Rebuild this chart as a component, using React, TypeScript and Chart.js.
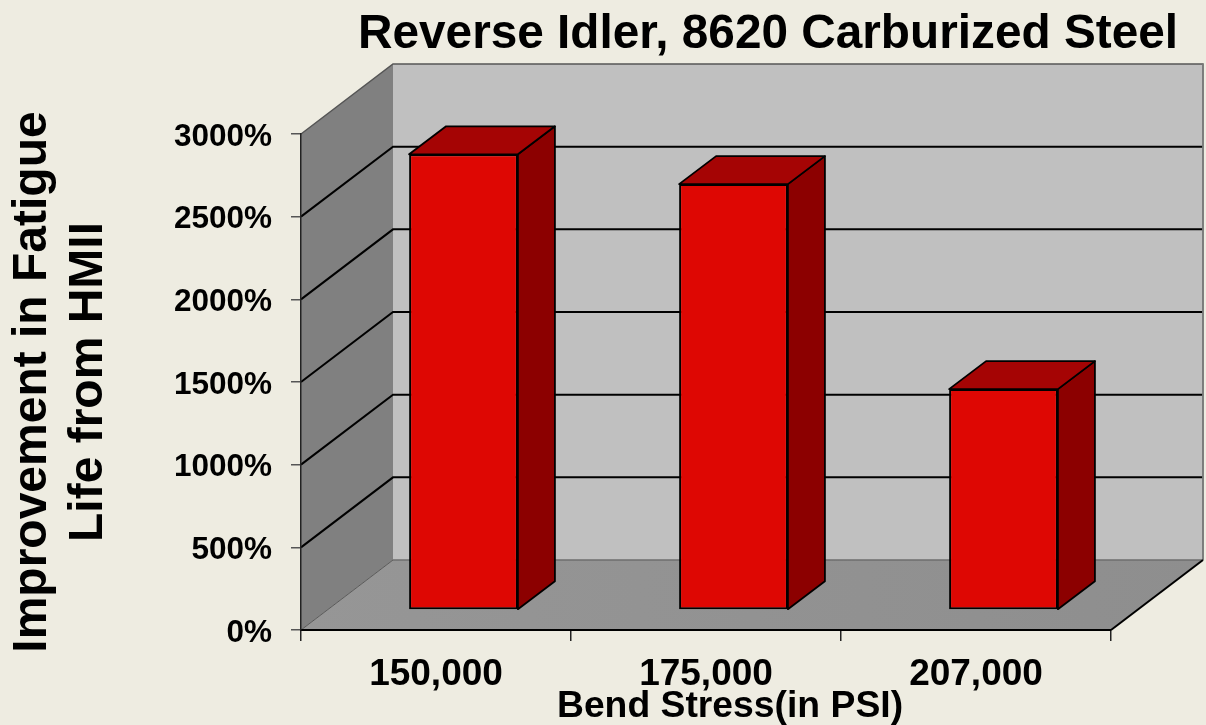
import React, { useEffect, useRef } from "react";
import { Chart, registerables } from "chart.js";

Chart.register(...registerables);

const categories = ["150,000", "175,000", "207,000"];
const improvement = [2750, 2570, 1330];
const chartTitle = "Reverse Idler, 8620 Carburized Steel";
const yTitle = ["Improvement in Fatigue", "Life from HMII"];
const xTitle = "Bend Stress(in PSI)";

const FONT = '"Liberation Sans", Arial, sans-serif';
const DEPTH_X = 92;
const DEPTH_Y = 70;
const BAR_SHIFT_X = 27.5;
const BAR_SHIFT_Y = 21;
const BAR_DEPTH_X = 37;
const BAR_DEPTH_Y = 28;

function poly(ctx: CanvasRenderingContext2D, pts: number[][], fill: string, stroke?: string, lw = 1) {
  ctx.beginPath();
  pts.forEach((p, i) => (i ? ctx.lineTo(p[0], p[1]) : ctx.moveTo(p[0], p[1])));
  ctx.closePath();
  ctx.fillStyle = fill;
  ctx.fill();
  if (stroke) {
    ctx.strokeStyle = stroke;
    ctx.lineWidth = lw;
    ctx.lineJoin = "round";
    ctx.stroke();
  }
}

function seg(ctx: CanvasRenderingContext2D, pts: number[][], stroke: string, lw: number) {
  ctx.beginPath();
  pts.forEach((p, i) => (i ? ctx.lineTo(p[0], p[1]) : ctx.moveTo(p[0], p[1])));
  ctx.strokeStyle = stroke;
  ctx.lineWidth = lw;
  ctx.stroke();
}

const scene3d = {
  id: "scene3d",
  afterLayout(chart: any) {
    const t = chart.titleBlock;
    if (t) {
      t.left = 358;
      t.right = 1178;
    }
  },
  beforeDraw(chart: any) {
    const ctx: CanvasRenderingContext2D = chart.ctx;
    const { left, right, top, bottom } = chart.chartArea;
    const y = chart.scales.y;
    ctx.save();
    ctx.fillStyle = "#EEECE1";
    ctx.fillRect(0, 0, chart.width, chart.height);
    const bl = left + DEPTH_X;
    const br = right + DEPTH_X;
    const bt = top - DEPTH_Y;
    const bb = bottom - DEPTH_Y;
    poly(ctx, [[bl, bt], [br, bt], [br, bb], [bl, bb]], "#C0C0C0");
    const floor = ctx.createLinearGradient(left, 0, br, 0);
    floor.addColorStop(0, "#969696");
    floor.addColorStop(1, "#8E8E8E");
    poly(ctx, [[left, bottom], [right, bottom], [br, bb], [bl, bb]], floor);
    poly(ctx, [[left, top], [bl, bt], [bl, bb], [left, bottom]], "#808080");
    y.ticks.forEach((tk: any) => {
      const py = y.getPixelForValue(tk.value);
      if (tk.value > 0 && tk.value < 3000) {
        seg(ctx, [[left, py], [bl, py - DEPTH_Y], [br, py - DEPTH_Y]], "#000000", 2);
      }
    });
    seg(ctx, [[left, top], [bl, bt], [br, bt], [br, bb]], "#555555", 1.5);
    seg(ctx, [[br, bt], [br, bb]], "#808080", 1.5);
    seg(ctx, [[bl, bb], [br, bb]], "#6E6E6E", 1.5);
    seg(ctx, [[left, bottom], [bl, bb]], "#5A5A5A", 1);
    seg(ctx, [[right, bottom], [br, bb]], "#000000", 2);
    ctx.restore();
  },
  beforeDatasetsDraw(chart: any) {
    const ctx: CanvasRenderingContext2D = chart.ctx;
    const meta = chart.getDatasetMeta(0);
    ctx.save();
    meta.data.forEach((bar: any) => {
      const l = bar.x - bar.width / 2 + BAR_SHIFT_X;
      const r = bar.x + bar.width / 2 + BAR_SHIFT_X;
      const t = bar.y - BAR_SHIFT_Y;
      const b = bar.base - BAR_SHIFT_Y;
      poly(ctx, [[r, t], [r + BAR_DEPTH_X, t - BAR_DEPTH_Y], [r + BAR_DEPTH_X, b - BAR_DEPTH_Y], [r, b]], "#8C0000", "#000000", 1.8);
      poly(ctx, [[l, t], [l + BAR_DEPTH_X, t - BAR_DEPTH_Y], [r + BAR_DEPTH_X, t - BAR_DEPTH_Y], [r, t]], "#A50404", "#000000", 1.8);
    });
    ctx.restore();
    ctx.save();
    ctx.translate(BAR_SHIFT_X, -BAR_SHIFT_Y);
  },
  afterDatasetsDraw(chart: any) {
    const ctx: CanvasRenderingContext2D = chart.ctx;
    ctx.restore();
    ctx.save();
    ctx.font = `bold 37.3px ${FONT}`;
    ctx.fillStyle = "#000000";
    ctx.textAlign = "center";
    ctx.textBaseline = "middle";
    ctx.fillText(xTitle, 730, 706.5);
    ctx.restore();
  },
};

export default function App() {
  const ref = useRef<HTMLCanvasElement>(null);
  useEffect(() => {
    document.body.style.margin = "0";
    const chart = new Chart(ref.current as HTMLCanvasElement, {
      type: "bar",
      data: {
        labels: categories,
        datasets: [
          {
            label: "Improvement",
            data: improvement,
            backgroundColor: "#DE0703",
            borderColor: "#000000",
            borderWidth: 2,
            borderSkipped: false,
            base: -1,
            barPercentage: 0.403,
            categoryPercentage: 1,
            clip: false,
          } as any,
        ],
      },
      options: {
        responsive: false,
        animation: false,
        layout: { padding: { top: 0, right: 95, bottom: 0, left: 0 } },
        plugins: {
          legend: { display: false },
          tooltip: { enabled: false },
          title: {
            display: true,
            text: chartTitle,
            align: "center",
            color: "#000000",
            font: { family: FONT, size: 48, weight: "bold", lineHeight: 1.2 },
            padding: { top: 6, bottom: 70.4 },
          },
        },
        scales: {
          x: {
            afterFit(s: any) {
              s.height = 95;
            },
            grid: { drawOnChartArea: false, drawTicks: true, tickLength: 11, color: "#222222", lineWidth: 1.5, offset: true },
            border: { display: true, color: "#000000", width: 2 },
            ticks: { color: "#000000", font: { family: FONT, size: 37, weight: "bold" }, padding: 12, maxRotation: 0 },
          },
          y: {
            min: 0,
            max: 3000,
            afterFit(s: any) {
              s.width = 301;
            },
            grid: { drawOnChartArea: false, drawTicks: true, tickLength: 10, color: "#555555", lineWidth: 1.5 },
            border: { display: true, color: "#222222", width: 1.5 },
            ticks: {
              stepSize: 500,
              color: "#000000",
              font: { family: FONT, size: 31.5, weight: "bold" },
              padding: 19,
              labelOffset: 3,
              callback: (v: any) => `${v}%`,
            },
            title: {
              display: true,
              text: yTitle,
              color: "#000000",
              font: { family: FONT, size: 48, weight: "bold", lineHeight: 1.167 },
              padding: { top: 5, bottom: 0 },
            },
          },
        },
      },
      plugins: [scene3d],
    } as any);
    return () => chart.destroy();
  }, []);
  return <canvas ref={ref} width={1206} height={725} style={{ display: "block", position: "absolute", left: 0, top: 0 }} />;
}
